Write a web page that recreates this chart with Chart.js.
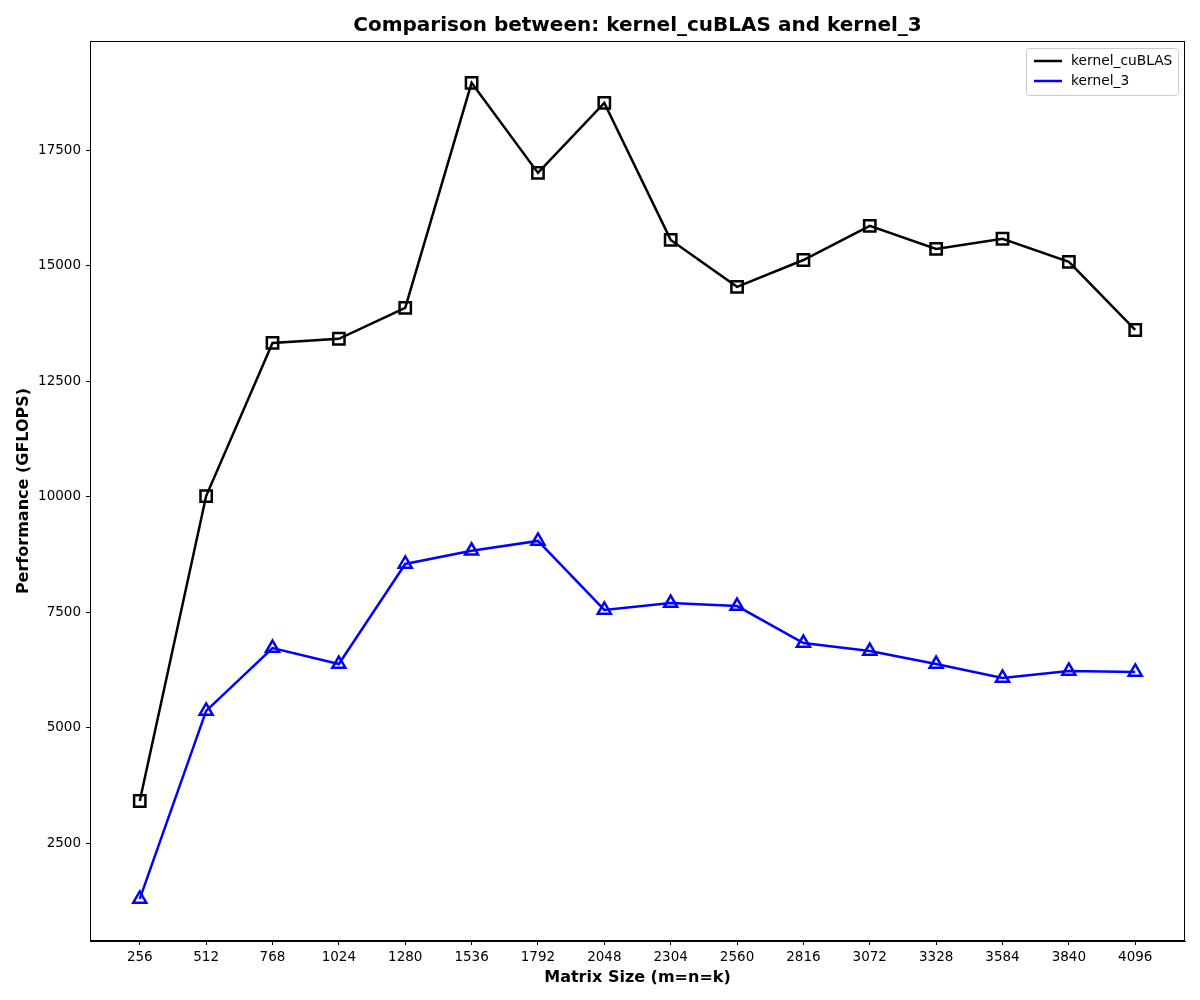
<!DOCTYPE html>
<html>
<head>
<meta charset="utf-8">
<script src="https://cdn.jsdelivr.net/npm/chart.js@4/dist/chart.umd.min.js"></script>
<style>
  html, body { margin: 0; padding: 0; background: #fff; }
  #wrap { width: 1200px; height: 1000px; }
</style>
</head>
<body>
<div id="wrap"><canvas id="myChart" width="1200" height="1000"></canvas></div>
<script>
// data
var sizes = [256, 512, 768, 1024, 1280, 1536, 1792, 2048, 2304, 2560, 2816, 3072, 3328, 3584, 3840, 4096]
var cublas = [3410, 10010, 13325, 13415, 14085, 18955, 17005, 18520, 15555, 14540, 15120, 15860, 15360, 15580, 15080, 13605]
var kernel3 = [1290, 5360, 6720, 6375, 8540, 8825, 9040, 7545, 7695, 7630, 6830, 6655, 6375, 6075, 6225, 6205]
var yTicks = [2500, 5000, 7500, 10000, 12500, 15000, 17500]

var titleText = 'Comparison between: kernel_cuBLAS and kernel_3'
var FONT = "'DejaVu Sans', sans-serif"

function toPoints(values){
  return sizes.map((s, i) => ({x: s, y: values[i]}))
}

//frame, title and the legend box
var decor = {
  id: 'decor',
  afterDraw(chart){
    let ctx = chart.ctx
    let a = chart.chartArea
    ctx.save()
    ctx.strokeStyle = '#000'
    ctx.lineWidth = 1
    ctx.strokeRect(a.left + 0.5, a.top + 0.5, a.right - a.left - 1, a.bottom - a.top - 1)

    ctx.fillStyle = '#000'
    ctx.font = 'bold 20px ' + FONT
    ctx.textAlign = 'center'
    ctx.textBaseline = 'middle'
    ctx.fillText(titleText, (a.left + a.right) / 2, 26)

    // legend
    let bx = 1026, by = 48, bw = 152, bh = 47
    ctx.fillStyle = 'rgba(255,255,255,0.8)'
    ctx.strokeStyle = '#cccccc'
    ctx.beginPath()
    ctx.roundRect(bx + 0.5, by + 0.5, bw, bh, 3)
    ctx.fill()
    ctx.stroke()
    ctx.font = '13.8px ' + FONT
    ctx.textAlign = 'left'
    chart.data.datasets.forEach((ds, i) => {
      let cy = by + 13 + i * 20
      ctx.strokeStyle = ds.borderColor
      ctx.lineWidth = 2.5
      ctx.beginPath()
      ctx.moveTo(bx + 8, cy)
      ctx.lineTo(bx + 36, cy)
      ctx.stroke()
      ctx.fillStyle = '#000'
      ctx.fillText(ds.label, bx + 45, cy)
    })
    ctx.restore()
  }
}

var ctx = document.getElementById('myChart').getContext('2d')
var chart = new Chart(ctx, {
  type: 'line',
  data: {
    datasets: [{
      label: 'kernel_cuBLAS',
      data: toPoints(cublas),
      borderColor: '#000000',
      backgroundColor: 'rgba(0,0,0,0)',
      borderWidth: 2.5,
      pointStyle: 'rect',
      pointRadius: 8,
      pointBorderWidth: 2.5,
      pointBorderColor: '#000000',
      pointBackgroundColor: 'rgba(0,0,0,0)',
      tension: 0
    }, {
      label: 'kernel_3',
      data: toPoints(kernel3),
      borderColor: '#0000ff',
      backgroundColor: 'rgba(0,0,0,0)',
      borderWidth: 2.5,
      pointStyle: 'triangle',
      pointRadius: 7.5,
      pointBorderWidth: 2.5,
      pointBorderColor: '#0000ff',
      pointBackgroundColor: 'rgba(0,0,0,0)',
      tension: 0
    }]
  },
  options: {
    responsive: false,
    animation: false,
    layout: { padding: { top: 41, right: 15, left: 0, bottom: 0 } },
    plugins: {
      legend: { display: false },
      title: { display: false },
      tooltip: { enabled: false }
    },
    scales: {
      x: {
        type: 'linear',
        min: 64,
        max: 4288,
        afterBuildTicks: axis => { axis.ticks = sizes.map(v => ({value: v})) },
        afterFit: axis => { axis.height = 59 },
        grid: { drawOnChartArea: false, drawTicks: true, tickLength: 4, tickColor: '#000' },
        border: { color: '#000' },
        ticks: { color: '#000', font: { family: FONT, size: 13.5 }, padding: 4, maxRotation: 0, autoSkip: false, callback: v => String(v) },
        title: { display: true, text: 'Matrix Size (m=n=k)', color: '#000', font: { family: FONT, size: 16, weight: 'bold' }, padding: { top: 4, bottom: 13 } }
      },
      y: {
        min: 380,
        max: 19860,
        afterBuildTicks: axis => { axis.ticks = yTicks.map(v => ({value: v})) },
        afterFit: axis => { axis.width = 90 },
        grid: { drawOnChartArea: false, drawTicks: true, tickLength: 4, tickColor: '#000' },
        border: { color: '#000' },
        ticks: { color: '#000', font: { family: FONT, size: 13.5 }, padding: 5, callback: v => String(v) },
        title: { display: true, text: 'Performance (GFLOPS)', color: '#000', font: { family: FONT, size: 16, weight: 'bold' }, padding: { top: 14, bottom: 4 } }
      }
    }
  },
  plugins: [decor]
})
</script>
</body>
</html>
